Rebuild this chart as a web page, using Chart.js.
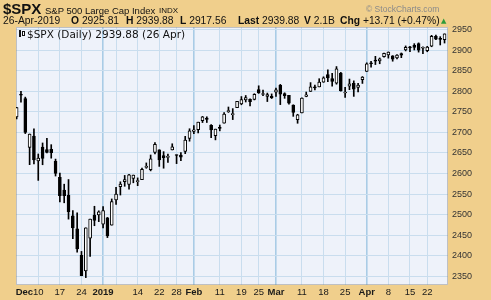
<!DOCTYPE html>
<html>
<head>
<meta charset="utf-8">
<script src="https://cdn.jsdelivr.net/npm/chart.js@4.4.1/dist/chart.umd.min.js"></script>
<style>
  html,body{margin:0;padding:0;background:#F0CF8C;}
  #wrap{position:relative;width:491px;height:300px;overflow:hidden;}
  #c{position:absolute;left:0;top:0;}
  .t{position:absolute;white-space:pre;font-family:"Liberation Sans",Arial,sans-serif;color:#111;}
  .b{font-weight:bold;}
</style>
</head>
<body>
<div id="wrap">
  <canvas id="c" width="491" height="300"></canvas>
  <div class="t b" style="left:3px;top:0.5px;font-size:15px;line-height:15px;">$SPX</div>
  <div class="t" style="left:45px;top:5.5px;font-size:9.5px;line-height:9.5px;">S&amp;P 500 Large Cap Index</div>
  <div class="t" style="left:159px;top:7px;font-size:8px;line-height:8px;">INDX</div>
  <div class="t" style="left:366px;top:4.5px;font-size:8.5px;line-height:8.5px;color:#8a8a8a;">© StockCharts.com</div>
  <div class="t" style="left:3px;top:16px;font-size:10.3px;line-height:10px;">26-Apr-2019</div>
  <div class="t" style="left:71px;top:16px;font-size:10.3px;line-height:10px;"><span class="b">O</span> 2925.81</div>
  <div class="t" style="left:126px;top:16px;font-size:10.3px;line-height:10px;"><span class="b">H</span> 2939.88</div>
  <div class="t" style="left:180px;top:16px;font-size:10.3px;line-height:10px;"><span class="b">L</span> 2917.56</div>
  <div class="t" style="left:238px;top:16px;font-size:10.3px;line-height:10px;"><span class="b">Last</span> 2939.88</div>
  <div class="t" style="left:304px;top:16px;font-size:10.3px;line-height:10px;"><span class="b">V</span> 2.1B</div>
  <div class="t" style="left:340px;top:16px;font-size:10.3px;line-height:10px;"><span class="b">Chg</span> +13.71 (+0.47%)</div>
  <div class="t" style="left:441px;top:17.5px;font-size:7px;line-height:7px;color:#2e9b3a;font-family:'DejaVu Sans',sans-serif;">▲</div>
  <div style="position:absolute;left:19px;top:30px;width:2px;height:7px;background:#111;"></div>
  <div style="position:absolute;left:22px;top:31px;width:3px;height:5px;border:1px solid #111;box-sizing:border-box;background:#fff;"></div>
  <div class="t" style="left:27px;top:28.5px;font-size:10.5px;line-height:10px;font-family:'DejaVu Sans',sans-serif;">$SPX (Daily) 2939.88 (26 Apr)</div>
</div>
<script>
const dates = ['2018-11-30','2018-12-03','2018-12-04','2018-12-06','2018-12-07','2018-12-10','2018-12-11','2018-12-12','2018-12-13','2018-12-14','2018-12-17','2018-12-18','2018-12-19','2018-12-20','2018-12-21','2018-12-24','2018-12-26','2018-12-27','2018-12-28','2018-12-31',
'2019-01-02','2019-01-03','2019-01-04','2019-01-07','2019-01-08','2019-01-09','2019-01-10','2019-01-11','2019-01-14','2019-01-15','2019-01-16','2019-01-17','2019-01-18','2019-01-22','2019-01-23','2019-01-24','2019-01-25','2019-01-28','2019-01-29','2019-01-30','2019-01-31',
'2019-02-01','2019-02-04','2019-02-05','2019-02-06','2019-02-07','2019-02-08','2019-02-11','2019-02-12','2019-02-13','2019-02-14','2019-02-15','2019-02-19','2019-02-20','2019-02-21','2019-02-22','2019-02-25','2019-02-26','2019-02-27','2019-02-28',
'2019-03-01','2019-03-04','2019-03-05','2019-03-06','2019-03-07','2019-03-08','2019-03-11','2019-03-12','2019-03-13','2019-03-14','2019-03-15','2019-03-18','2019-03-19','2019-03-20','2019-03-21','2019-03-22','2019-03-25','2019-03-26','2019-03-27','2019-03-28','2019-03-29',
'2019-04-01','2019-04-02','2019-04-03','2019-04-04','2019-04-05','2019-04-08','2019-04-09','2019-04-10','2019-04-11','2019-04-12','2019-04-15','2019-04-16','2019-04-17','2019-04-18','2019-04-22','2019-04-23','2019-04-24','2019-04-25','2019-04-26'];
const opens = [2737.76,2790.50,2782.43,2663.51,2691.26,2630.86,2664.44,2658.23,2658.70,2629.68,2590.75,2559.90,2547.05,2496.77,2465.38,2400.56,2363.12,2442.50,2498.77,2498.94,
2476.96,2491.92,2474.33,2535.61,2568.11,2580.00,2573.51,2588.11,2580.31,2585.10,2614.75,2609.28,2651.27,2657.88,2643.48,2638.84,2657.44,2644.97,2644.89,2653.62,2685.49,
2702.32,2706.49,2728.34,2735.05,2717.53,2692.36,2712.40,2722.61,2750.30,2743.50,2760.24,2769.28,2779.05,2780.67,2780.24,2804.35,2792.36,2787.50,2788.11,
2798.22,2814.37,2794.41,2790.27,2766.53,2730.79,2747.61,2787.34,2799.78,2810.38,2810.79,2822.61,2840.76,2831.34,2819.72,2844.52,2796.01,2812.66,2819.72,2809.40,2828.27,
2848.63,2868.24,2876.09,2873.99,2884.16,2888.46,2886.58,2881.37,2891.92,2900.86,2908.32,2912.26,2916.04,2904.81,2898.78,2909.99,2934.00,2928.99,2925.81];
const highs = [2760.88,2800.18,2785.93,2696.15,2708.54,2647.51,2674.35,2685.44,2670.19,2635.07,2601.13,2573.99,2585.29,2509.63,2504.41,2410.34,2467.76,2489.10,2520.27,2509.24,
2519.49,2493.14,2538.07,2566.16,2579.82,2595.32,2597.82,2596.27,2589.32,2613.08,2625.76,2645.06,2675.47,2657.88,2653.19,2647.20,2672.38,2644.97,2650.93,2690.44,2708.95,
2716.66,2724.99,2738.98,2738.08,2719.32,2708.07,2718.05,2748.19,2761.85,2757.90,2775.66,2787.33,2789.88,2781.58,2794.20,2813.49,2803.12,2795.76,2793.73,
2808.02,2816.88,2796.44,2790.27,2767.25,2744.13,2784.00,2798.32,2821.24,2815.00,2830.73,2835.41,2852.42,2843.54,2860.31,2846.16,2809.79,2829.87,2825.56,2819.71,2836.03,
2869.40,2872.90,2885.25,2881.28,2893.24,2895.95,2886.88,2889.71,2893.42,2910.54,2909.60,2916.06,2918.00,2908.40,2909.51,2936.31,2936.83,2933.10,2939.88];
const lows = [2732.76,2773.38,2697.18,2621.53,2623.14,2583.23,2621.30,2650.26,2637.27,2593.84,2530.54,2528.71,2488.96,2441.18,2408.55,2351.10,2346.58,2397.94,2472.89,2482.82,
2467.47,2443.96,2474.33,2524.56,2547.56,2568.89,2562.02,2577.40,2570.41,2585.10,2612.68,2606.36,2647.58,2617.27,2612.86,2627.01,2657.33,2624.06,2631.05,2648.34,2678.65,
2696.88,2698.75,2724.03,2724.15,2687.26,2681.83,2703.79,2722.61,2748.63,2731.23,2760.24,2767.29,2774.06,2764.55,2779.11,2794.99,2789.47,2775.13,2782.51,
2787.38,2767.66,2782.97,2768.69,2739.09,2722.27,2747.61,2786.73,2799.78,2803.46,2810.79,2821.99,2823.27,2812.43,2817.38,2800.47,2785.02,2803.99,2787.72,2798.77,2819.23,
2848.63,2858.75,2865.17,2867.14,2882.99,2880.78,2873.33,2879.13,2881.99,2898.37,2896.48,2900.71,2895.45,2891.90,2896.35,2908.53,2926.05,2912.84,2917.56];
const closes = [2760.17,2790.37,2700.06,2695.95,2633.08,2637.72,2636.78,2651.07,2650.54,2599.95,2545.94,2546.16,2506.96,2467.42,2416.62,2351.10,2467.70,2488.83,2485.74,2506.85,
2510.03,2447.89,2531.94,2549.69,2574.41,2584.96,2596.64,2596.26,2582.61,2610.30,2616.10,2635.96,2670.71,2632.90,2638.70,2642.33,2664.76,2643.85,2640.00,2681.05,2704.10,
2706.53,2724.87,2737.70,2731.61,2706.05,2707.88,2709.80,2744.73,2753.03,2745.73,2775.60,2779.76,2784.70,2774.88,2792.67,2796.11,2793.90,2792.38,2784.49,
2803.69,2792.81,2789.65,2771.45,2748.93,2743.07,2783.30,2791.52,2810.92,2808.48,2822.48,2832.94,2832.57,2824.23,2854.88,2800.71,2798.36,2818.46,2805.37,2815.44,2834.40,
2867.19,2867.24,2873.40,2879.39,2892.74,2895.77,2878.20,2888.21,2888.32,2907.41,2905.58,2907.06,2900.45,2905.03,2907.97,2933.68,2927.25,2926.17,2939.88];

const yTicks = [2350,2400,2450,2500,2550,2600,2650,2700,2750,2800,2850,2900,2950];
const xTickIdx  = [1.8,5,10,15,20,23,28,33,37,41,47,52,56,60,66,71,76,81,86,91,95];
const xTickText = ['Dec','10','17','24','2019','','14','22','28','Feb','11','19','25','Mar','11','18','25','Apr','8','15','22'];
const xTickMajor = [1,0,0,0,1,0,0,0,0,1,0,0,0,1,0,0,0,1,0,0,0];

const wickData = dates.map((d,i)=>({x:i, y:[lows[i], highs[i]]}));
const bodyData = dates.map((d,i)=>({x:i, y:[Math.min(opens[i],closes[i]), Math.max(opens[i],closes[i])]}));
const bodyFill = dates.map((d,i)=> closes[i] >= opens[i] ? '#ffffff' : '#000000');

const bgPlugin = {
  id:'bg',
  beforeDraw(chart){
    const {ctx, chartArea:a} = chart;
    ctx.save();
    ctx.fillStyle = '#F0CF8C';
    ctx.fillRect(0,0,chart.width,chart.height);
    ctx.fillStyle = '#EEF2FA';
    ctx.fillRect(a.left,a.top,a.right-a.left,a.bottom-a.top);
    ctx.restore();
  },
  beforeDatasetsDraw(chart){
    const {ctx, chartArea:a} = chart;
    ctx.save();
    ctx.strokeStyle = '#8e8e8e';
    ctx.lineWidth = 1;
    ctx.setLineDash([1,1]);
    ctx.strokeRect(a.left+0.5,a.top+0.5,a.right-a.left-1,a.bottom-a.top-1);
    ctx.restore();
  }
};

new Chart(document.getElementById('c'), {
  type:'bar',
  data:{
    datasets:[
      {label:'body', data: bodyData, backgroundColor: bodyFill, borderColor:'#000', borderWidth:1, borderSkipped:false, barThickness:3, minBarLength:1, grouped:false, order:1},
      {label:'wick', data: wickData, backgroundColor:'#000', borderWidth:0, barThickness:1, grouped:false, order:2}
    ]
  },
  options:{
    responsive:false,
    animation:false,
    events:[],
    layout:{padding:{left:16, top:27, right:0, bottom:0}},
    plugins:{legend:{display:false}, tooltip:{enabled:false}},
    scales:{
      x:{
        type:'linear', min:-0.15, max:99.8, bounds:'data', offset:false,
        afterBuildTicks(s){ s.ticks = xTickIdx.map((v,i)=>({value:v, major: !!xTickMajor[i]})); },
        afterFit(s){ s.height = 15; },
        ticks:{
          autoSkip:false, maxRotation:0, padding:2, color:'#1a1a1a',
          callback(v,i){ return xTickText[i]; },
          font(ctx){ return {family:'"Liberation Sans", Arial, sans-serif', size:9.5, weight: xTickMajor[ctx.index] ? 'bold' : 'normal'}; }
        },
        grid:{
          drawTicks:false, offset:false,
          color(ctx){ if (ctx.index===0) return 'rgba(0,0,0,0)'; return xTickMajor[ctx.index] ? '#A9CCE6' : '#C9DDEE'; },
          lineWidth(ctx){ return xTickMajor[ctx.index] ? 1.6 : 1; }
        },
        border:{display:false}
      },
      y:{
        type:'linear', position:'right', min:2328.6, max:2956.6, bounds:'data',
        afterBuildTicks(s){ s.ticks = yTicks.map(v=>({value:v})); },
        afterFit(s){ s.width = 43; },
        ticks:{ padding:4, color:'#333', font:{family:'"Liberation Sans", Arial, sans-serif', size:9}, callback(v){ return String(v); } },
        grid:{ drawTicks:false, color:'#C9DDEE', lineWidth:1 },
        border:{display:false}
      }
    }
  },
  plugins:[bgPlugin]
});
</script>
</body>
</html>
